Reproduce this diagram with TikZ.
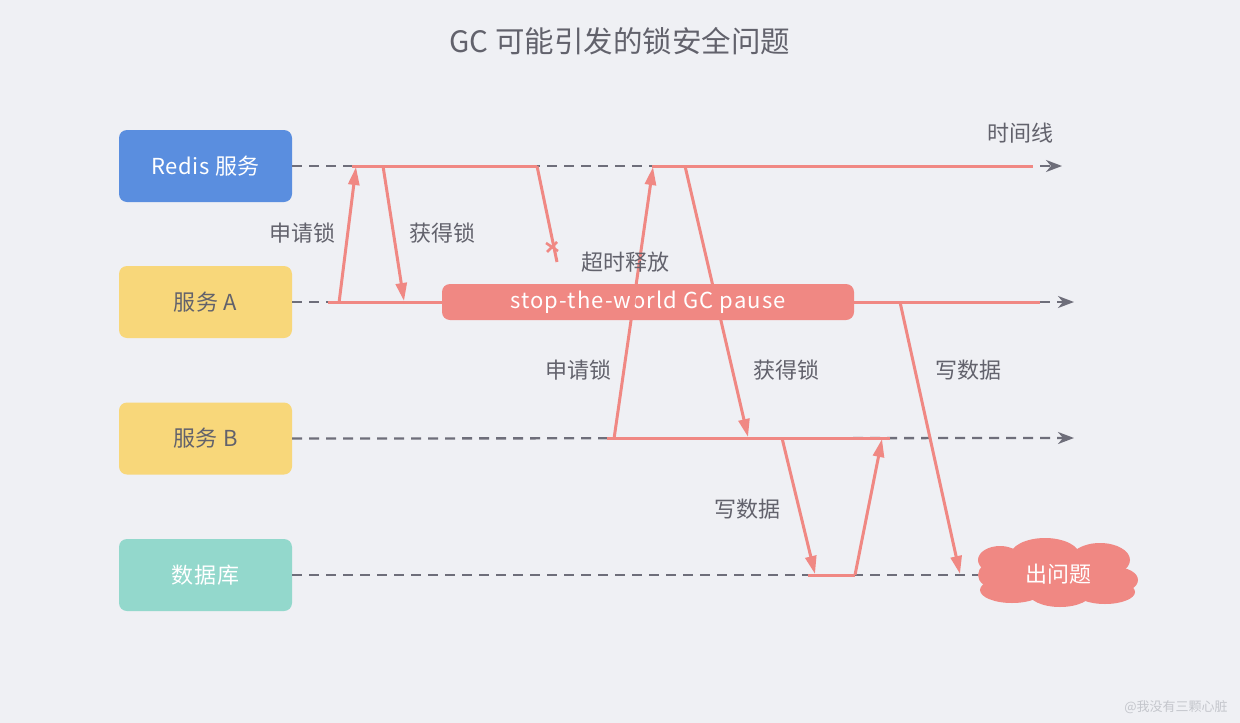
\documentclass[tikz,border=0pt]{standalone}
\usepackage{fontspec}
\setmainfont{Noto Sans CJK SC}
\usetikzlibrary{arrows.meta}
\definecolor{bg}{HTML}{EFF0F4}
\definecolor{blueC}{HTML}{5A8EDF}
\definecolor{yellowC}{HTML}{F8D77A}
\definecolor{tealC}{HTML}{93D8CC}
\definecolor{redC}{HTML}{F08883}
\definecolor{grayL}{HTML}{6E6E7A}
\definecolor{txt}{HTML}{62626C}
\definecolor{wm}{HTML}{C4C6CC}
\tikzset{
  box/.style={rounded corners=8pt, minimum width=173pt, minimum height=72pt, inner sep=0pt, font=\fontsize{22}{26}\selectfont\addfontfeature{LetterSpace=3}},
  tl/.style={draw=grayL, line width=2.3pt, dash pattern=on 10pt off 7pt, -{Stealth[length=16pt,width=12pt,inset=5pt]}},
  tlplain/.style={draw=grayL, line width=2.3pt, dash pattern=on 10pt off 7pt},
  redline/.style={draw=redC, line width=3pt},
  redarrow/.style={draw=redC, line width=3pt, -{Triangle[length=18pt,width=11pt]}},
  lbl/.style={text=txt, font=\fontsize{22}{26}\selectfont, inner sep=0pt},
}
\begin{document}
\begin{tikzpicture}[x=1pt,y=-1pt]
\fill[bg] (0,0) rectangle (1240,723);
\useasboundingbox (0,0) rectangle (1240,723);

% title
\node[text=txt, font=\fontsize{29.5}{34}\selectfont] (title) at (620,41) {GC 可能引发的锁安全问题};

% boxes
\node[box, fill=blueC, text=white] (redis) at (205.5,166) {Redis 服务};
\node[box, fill=yellowC, text=txt] (sa) at (205.5,302) {服务 A};
\node[box, fill=yellowC, text=txt] (sb) at (205.5,438.5) {服务 B};
\node[box, fill=tealC, text=white] (db) at (205.5,575) {数据库};

% coordinates
\coordinate (rEnd) at (1062,166);
\coordinate (aEnd) at (1074,302);
\coordinate (bEnd) at (1074,438);
\coordinate (dEnd) at (985,575);
\coordinate (r1) at (352,166);
\coordinate (r2) at (537,166);
\coordinate (r3) at (652,166);
\coordinate (r4) at (1033,166);
\coordinate (a1) at (328,302);
\coordinate (a4) at (1040,302);
\coordinate (b1) at (607,438);
\coordinate (b2) at (890,438);
\coordinate (d1) at (808,575);
\coordinate (d2) at (855,575);

% timelines
\draw[tl] (redis.east) -- (rEnd);
\draw[tl] (sa.east) -- (aEnd);
\draw[tl] (sb.east) -- (bEnd);
\draw[tlplain] (db.east) -- (dEnd);

% cloud
\fill[redC] (1000,560) ellipse [x radius=22, y radius=14];
\fill[redC] (1045,556) ellipse [x radius=35, y radius=18];
\fill[redC] (1100,560) ellipse [x radius=30, y radius=17];
\fill[redC] (1115,580) ellipse [x radius=23, y radius=13];
\fill[redC] (1105,592) ellipse [x radius=30, y radius=12];
\fill[redC] (1060,592) ellipse [x radius=32, y radius=15];
\fill[redC] (1012,590) ellipse [x radius=32, y radius=13];
\fill[redC] (995,575) ellipse [x radius=17, y radius=13];
\fill[redC] (995,560) rectangle (1120,595);
\node[text=white, inner sep=0pt, font=\fontsize{22}{26}\selectfont] (cloud) at (1058,574) {出问题};

% red segments on timelines
\draw[redline] (r1) -- (r2);
\draw[redline] (r3) -- (r4);
\draw[redline] (b1) -- (b2);
\draw[redline] (d1) -- (d2);

\node[rounded corners=8pt, fill=redC, text=white, minimum width=412pt, minimum height=36pt,
      inner sep=0pt, font=\fontsize{22}{26}\selectfont\addfontfeature{LetterSpace=5}] (gc) at (648,302) {stop-the-world GC pause};
\draw[redline] (a1) -- (gc.west);
\draw[redline] (gc.east) -- (a4);

% arrows
\coordinate (p1s) at (339,303);
\coordinate (p1e) at (356,167);
\draw[redarrow] (p1s) -- (p1e);
\coordinate (g1s) at (383,166);
\coordinate (g1e) at (404,301);
\draw[redarrow] (g1s) -- (g1e);
\coordinate (t1e) at (557,262);
\draw[redline] (r2) -- (t1e);
\coordinate (xc) at (552,247);
\draw[redC, line width=2.5pt] ([shift={(-6,-4)}]xc) -- ([shift={(6,4)}]xc);
\draw[redC, line width=2.5pt] ([shift={(-5,5)}]xc) -- ([shift={(5,-5)}]xc);
\coordinate (p2s) at (614,439);
\coordinate (p2e) at (653,167);
\draw[redarrow] (p2s) -- (p2e);
\coordinate (g2s) at (685,166);
\coordinate (g2e) at (748,437);
\draw[redarrow] (g2s) -- (g2e);
\coordinate (w1s) at (900,302);
\coordinate (w1e) at (960,574);
\draw[redarrow] (w1s) -- (w1e);
\coordinate (w2s) at (782,438);
\coordinate (w2e) at (815,574);
\draw[redarrow] (w2s) -- (w2e);
\coordinate (u2e) at (882,439);
\draw[redarrow] (d2) -- (u2e);

% labels
\node[lbl] (l1) at (302,233) {申请锁};
\node[lbl] (l2) at (442,233) {获得锁};
\node[lbl] (l3) at (625,262) {超时释放};
\node[lbl] (l4) at (578,370) {申请锁};
\node[lbl] (l5) at (786,370) {获得锁};
\node[lbl] (l6) at (968,370) {写数据};
\node[lbl] (l7) at (747,509) {写数据};
\node[lbl] (l8) at (1020,133) {时间线};
\node[text=wm, font=\fontsize{13}{15}\selectfont, inner sep=0pt] (wmk) at (1176,707) {@我没有三颗心脏};
\end{tikzpicture}
\end{document}
